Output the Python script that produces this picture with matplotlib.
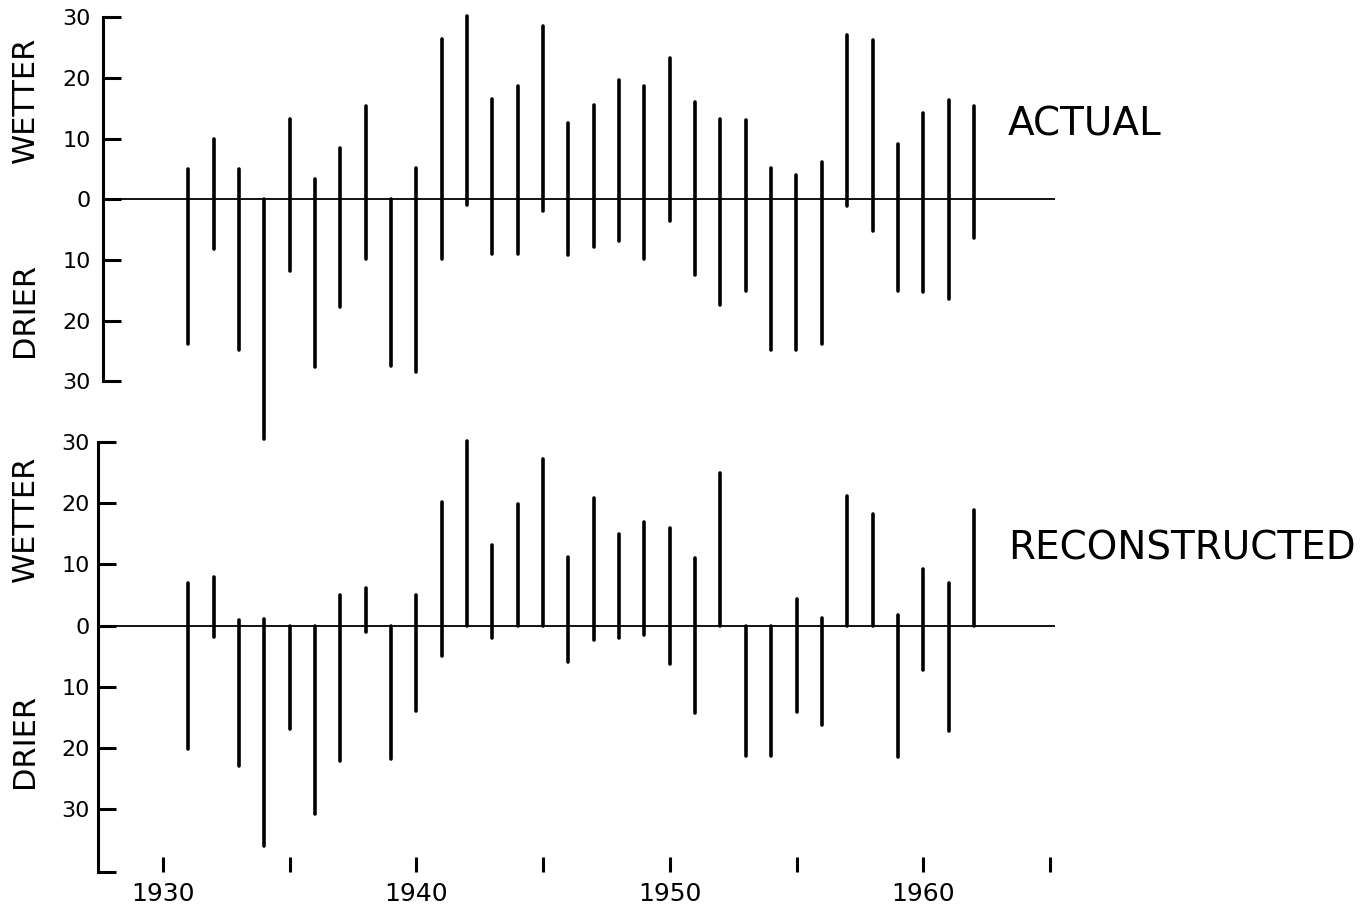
import matplotlib
matplotlib.use("Agg")
import matplotlib.pyplot as plt

years = list(range(1931, 1963))

# wetter (+) / drier (-) extremes per year
actual_high = [5, 10, 5, 0, 13.3, 3.4, 8.4, 15.4, 0, 5.1,
               26.4, 30.2, 16.5, 18.7, 28.5, 12.5, 15.6, 19.6, 18.6, 23.2,
               16, 13.2, 13.1, 5.1, 4, 6.1, 27.1, 26.3, 9.1, 14.2, 16.3, 15.3]
actual_low = [-23.8, -8.2, -24.8, -39.5, -11.8, -27.6, -17.8, -9.8, -27.4, -28.5,
              -9.8, -0.9, -9, -9, -1.9, -9.1, -7.8, -6.9, -9.8, -3.5,
              -12.5, -17.4, -15.1, -24.9, -24.9, -23.9, -1.1, -5.3, -15.1, -15.2, -16.4, -6.3]
recon_high = [6.9, 8, 0.9, 1.1, 0, 0, 5, 6.1, 0, 5,
              20.2, 30.2, 13.2, 19.9, 27.2, 11.2, 20.9, 15, 16.9, 15.9,
              11, 24.9, 0, 0, 4.4, 1.2, 21.2, 18.2, 1.7, 9.2, 7, 18.9]
recon_low = [-20.2, -1.8, -23, -36, -16.9, -30.8, -22.1, -1.1, -21.8, -14,
             -5, 0, -2, 0, 0, -6, -2.3, -2.1, -1.5, -6.2,
             -14.3, 0, -21.3, -21.4, -14.1, -16.3, 0, 0, -21.5, -7.2, -17.3, 0]

yticks = [-30, -20, -10, 0, 10, 20, 30]
ytick_labels = ["30", "20", "10", "0", "10", "20", "30"]
xticks = [1930, 1935, 1940, 1945, 1950, 1955, 1960, 1965]
xtick_labels = ["1930", "", "1940", "", "1950", "", "1960", ""]
zero_line_end = 1965.2

W, H = 1372, 911
PX_PER_YEAR = 25.34
X1930 = 163


def px_to_year(px):
    return 1930 + (px - X1930) / PX_PER_YEAR


plt.rcParams['font.family'] = ['DejaVu Sans']
fig = plt.figure(figsize=(W / 100, H / 100), dpi=100)

ax1 = fig.add_axes([103 / W, (H - 448.2) / H, (W - 103) / W, 438.9 / H])
ax1.set_xlim(px_to_year(103), px_to_year(W))
ax1.set_ylim(-41, 31.3)

ax2 = fig.add_axes([98.5 / W, (H - 872) / H, (W - 98.5) / W, 440.8 / H])
ax2.set_xlim(px_to_year(98.5), px_to_year(W))
ax2.set_ylim(-40.3, 31.8)

for ax, hi, lo in [(ax1, actual_high, actual_low), (ax2, recon_high, recon_low)]:
    ax.set_facecolor('none')
    for side in ['top', 'right', 'bottom']:
        ax.spines[side].set_visible(False)
    ax.spines['left'].set_linewidth(2.2)
    bars = ax.vlines(years, lo, hi, colors='black', linewidth=2.6)
    bars.set_capstyle('round')
    ax.hlines(0, ax.get_xlim()[0], zero_line_end, colors='black', linewidth=1.3)
    ax.tick_params(axis='y', direction='in', length=13, width=2.2, labelsize=16)

ax1.spines['left'].set_bounds(-30, 30)
ax1.set_yticks(yticks, ytick_labels)
ax1.tick_params(axis='y', pad=8.6)
ax1.set_xticks([])

ax2.spines['left'].set_bounds(-40.3, 30)
ax2.set_yticks([-40.3] + yticks, [""] + ytick_labels)
ax2.tick_params(axis='y', pad=6.5)
ax2.set_xticks(xticks, xtick_labels)
ax2.tick_params(axis='x', direction='in', length=11, width=2.2, pad=7, labelsize=18)

# side labels
for label, ypx in [("WETTER", 100), ("DRIER", 310), ("WETTER", 519), ("DRIER", 741)]:
    fig.text(25 / W, 1 - ypx / H, label, rotation=90, ha='center', va='center', fontsize=22)

fig.text(1008 / W, 1 - 135 / H, "ACTUAL", ha='left', va='baseline', fontsize=28)
fig.text(1008 / W, 1 - 560 / H, "RECONSTRUCTED", ha='left', va='baseline', fontsize=28)

fig.savefig("out.png", dpi=100)
